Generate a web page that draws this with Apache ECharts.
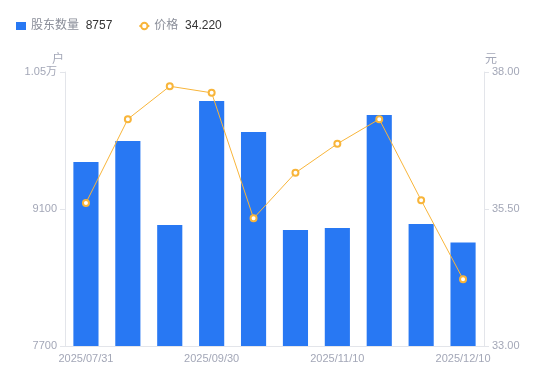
<!DOCTYPE html>
<html>
<head>
<meta charset="utf-8">
<script src="https://cdn.jsdelivr.net/npm/echarts@6/dist/echarts.min.js"></script>
<style>
    html, body { margin: 0; padding: 0; background: #fff; }
    #main { width: 550px; height: 381px; }
</style>
</head>
<body>
<div id="main"></div>
<script>
var dates = ['2025/07/31', '2025/08/20', '2025/08/31', '2025/09/30', '2025/10/20',
    '2025/10/31', '2025/11/10', '2025/11/20', '2025/11/30', '2025/12/10'];
var holders = [9580, 9795, 8936, 10204, 9887, 8885, 8906, 10061, 8947, 8757];
var prices = [35.61, 37.14, 37.74, 37.62, 35.33, 36.16, 36.69, 37.14, 35.66, 34.22];
var holderTicks = [7700, 9100, 10500];
var priceTicks = [33, 35.5, 38];

function drawChart() {
    var dom = document.getElementById('main');
    var chart = echarts.init(dom);
    var lastHolder = holders[holders.length - 1];
    var lastPrice = prices[prices.length - 1];
    var option = {
        animation: false,
        textStyle: {
            fontFamily: "'Liberation Sans', 'Noto Sans CJK SC', sans-serif"
        },
        legend: {
            left: 11,
            top: 15,
            itemGap: 26,
            itemWidth: 10,
            itemHeight: 8,
            data: [{
                    name: '股东数量',
                    icon: 'rect'
                },
                {
                    name: '价格'
                }
            ],
            formatter: function(name) {
                if (name === '股东数量')
                    return '{n|' + name + '}  {v|' + lastHolder + '}';
                return '{n|' + name + '}  {v|' + lastPrice.toFixed(3) + '}';
            },
            textStyle: {
                rich: {
                    n: { color: '#8a8e99', fontSize: 12 },
                    v: { color: '#333333', fontSize: 12 }
                }
            }
        },
        grid: {
            left: 65,
            right: 66,
            top: 72,
            bottom: 35
        },
        xAxis: {
            type: 'category',
            data: dates,
            axisLine: {
                lineStyle: { color: '#e3e5ea' }
            },
            axisTick: { show: false },
            axisLabel: {
                interval: 2,
                color: '#a3a7b7',
                fontSize: 11,
                margin: 7
            }
        },
        yAxis: [{
                type: 'value',
                name: '户',
                min: 7700,
                max: 10500,
                nameGap: 6,
                nameTextStyle: { color: '#a3a7b7', fontSize: 12, align: 'right', padding: [0, 1, 0, 0] },
                axisLine: { show: true, lineStyle: { color: '#e3e5ea' } },
                axisTick: { show: true, length: 5, customValues: holderTicks, lineStyle: { color: '#e3e5ea' } },
                splitLine: { show: false },
                axisLabel: {
                    customValues: holderTicks,
                    color: '#a3a7b7',
                    fontSize: 11,
                    margin: 8,
                    formatter: function(value) {
                        if (value >= 10000)
                            return (value / 10000) + '万';
                        return value;
                    }
                }
            },
            {
                type: 'value',
                name: '元',
                min: 33,
                max: 38,
                nameGap: 6,
                nameTextStyle: { color: '#a3a7b7', fontSize: 12, align: 'left', padding: [0, 0, 0, 1] },
                axisLine: { show: true, lineStyle: { color: '#e3e5ea' } },
                axisTick: { show: true, length: 5, customValues: priceTicks, lineStyle: { color: '#e3e5ea' } },
                splitLine: { show: false },
                axisLabel: {
                    customValues: priceTicks,
                    color: '#a3a7b7',
                    fontSize: 11,
                    margin: 8,
                    formatter: function(value) {
                        return value.toFixed(2);
                    }
                }
            }
        ],
        series: [{
                name: '股东数量',
                type: 'bar',
                yAxisIndex: 0,
                data: holders,
                barWidth: '60%',
                itemStyle: { color: '#2878f3' }
            },
            {
                name: '价格',
                type: 'line',
                yAxisIndex: 1,
                data: prices,
                symbol: 'emptyCircle',
                symbolSize: 6,
                itemStyle: { color: '#f8b53a', borderWidth: 2 },
                lineStyle: { color: '#f8b53a', width: 1 },
                z: 5
            }
        ]
    };
    chart.setOption(option, true);
    window.addEventListener('resize', function() {
        chart.resize();
    });
}

drawChart();
</script>
</body>
</html>
